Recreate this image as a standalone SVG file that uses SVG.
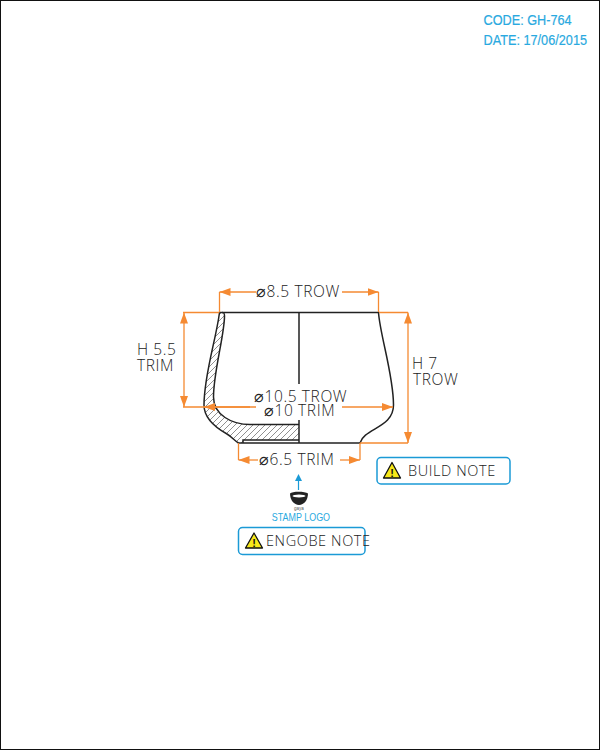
<svg xmlns="http://www.w3.org/2000/svg" width="600" height="750" viewBox="0 0 600 750">
<style>
.dim{font-family:"Open Sans","DejaVu Sans",sans-serif;font-weight:300;font-size:15.5px;fill:#222;letter-spacing:.6px}
.ln{fill:none;stroke:#222;stroke-width:1.5}
.or{fill:none;stroke:#f58a32;stroke-width:1.3}
.bx{fill:#fff;stroke:#1b9ad6;stroke-width:1.5}
.hd{font-family:"Liberation Sans",sans-serif;font-weight:400;font-size:15.5px;fill:#29a9e0;stroke:#29a9e0;stroke-width:.2}
.tri{fill:#f7e81a;stroke:#111;stroke-width:1.3;stroke-linejoin:round}
.ex{font-family:"Liberation Sans",sans-serif;font-weight:700;font-size:11px;fill:#111;text-anchor:middle}
</style>
<defs>
<marker id="a" markerWidth="12" markerHeight="9" refX="11" refY="4" orient="auto-start-reverse" markerUnits="userSpaceOnUse"><path d="M0 0L11 4L0 8Z" fill="#f58a32"/></marker>
<pattern id="h" width="6" height="6" patternUnits="userSpaceOnUse"><path d="M-1 7L7 -1M-1 1L1 -1M5 7L7 5" stroke="#444" stroke-width=".6" fill="none"/></pattern>
</defs>
<rect x="0.5" y="0.5" width="599" height="749" fill="#fff" stroke="#111" stroke-width="1"/>
<g id="header">
<text class="hd" transform="translate(483.500,25) scale(.82,1)">CODE: GH-764</text>
<text class="hd" transform="translate(483.500,45) scale(.82,1)">DATE: 17/06/2015</text>
</g>
<g id="vessel">
<path d="M219.500 312.500C216 340 204 375 204 405C204 420 218 429 227 434C232 437 235 441 238.500 443L243 443L243 440L299 440L299 424.500L250 424.500C232 424.500 213.500 415 213.500 397C213.500 372 224.500 335 224.500 316C224.500 313 224 312.500 222 312.500Z" fill="url(#h)"/>
<path class="ln" d="M219.500 312.500C216 340 204 375 204 405C204 420 218 429 227 434C232 437 235 441 238.500 443L360 443C364 428 393.500 428 393.500 405C393.500 375 380 335 378.500 312.500L219.500 312.500"/>
<path class="ln" d="M222 312.500C224 312.500 224.500 313 224.500 316C224.500 335 213.500 372 213.500 397C213.500 415 232 424.500 250 424.500L299 424.500"/>
<path class="ln" d="M243 443L243 440L299 440"/>
<path class="ln" d="M299 312.500L299 384M299 420L299 443"/>
</g>
<g id="connectors">
<path class="or" d="M256 292L219.500 292" marker-end="url(#a)"/><path class="or" d="M219.500 292L219.500 312"/>
<path class="or" d="M342 292L378.500 292" marker-end="url(#a)"/><path class="or" d="M378.500 292L378.500 312"/>
<path class="or" d="M184 312.500L184 407" marker-start="url(#a)" marker-end="url(#a)"/><path class="or" d="M183 312.500L219 312.500M183 407L250 407"/>
<path class="or" d="M408 312.500L408 443" marker-start="url(#a)" marker-end="url(#a)"/><path class="or" d="M379 312.500L408 312.500M360 443L408 443"/>
<path class="or" d="M256 407L204 407" marker-end="url(#a)"/>
<path class="or" d="M342 407L393 407" marker-end="url(#a)"/>
<path class="or" d="M258 460L238.500 460" marker-end="url(#a)"/><path class="or" d="M238.500 443L238.500 460"/>
<path class="or" d="M340 460L360 460" marker-end="url(#a)"/><path class="or" d="M360 443L360 460"/>
<path d="M298.500 490L298.500 478" stroke="#1b9ad6" stroke-width="1.2" fill="none"/><path d="M295 481L298.500 474L302 481Z" fill="#1b9ad6"/>
</g>
<g id="dimensions">
<text class="dim" x="256" y="297">⌀8.5 TROW</text>
<text class="dim" x="137" y="355">H 5.5</text>
<text class="dim" x="137" y="371">TRIM</text>
<text class="dim" x="412" y="369">H 7</text>
<text class="dim" x="413" y="385">TROW</text>
<text class="dim" x="254" y="402">⌀10.5 TROW</text>
<text class="dim" x="264" y="416">⌀10 TRIM</text>
<text class="dim" x="259" y="465">⌀6.5 TRIM</text>
</g>
<g id="stamp">
<path d="M290 493.500C292 491 305 491 308 493.500C308 500 304 505 299 505C294 505 290 500 290 493.500Z" fill="#222"/>
<ellipse cx="299" cy="496" rx="6.500" ry="1.500" fill="#fff"/>
<text x="299" y="509.500" font-family="'Liberation Sans',sans-serif" font-size="4.500" fill="#555" text-anchor="middle">gaya</text>
<text x="299" y="521" font-family="'Liberation Sans',sans-serif" font-size="10.500" fill="#29a9e0" text-anchor="middle" transform="translate(46.800 0) scale(.85 1)" >STAMP LOGO</text>
</g>
<g id="build-note">
<rect class="bx" x="377" y="457.500" width="133" height="26.500" rx="4"/>
<path class="tri" d="M392 462.500L400.500 478L383.500 478Z"/><text class="ex" x="392" y="476.500">!</text>
<text class="dim" x="408" y="476" style="font-size:14.500px">BUILD NOTE</text>
</g>
<g id="engobe-note">
<rect class="bx" x="238.500" y="527.500" width="126.500" height="27" rx="4"/>
<path class="tri" d="M254 533L262.500 548L245.500 548Z"/><text class="ex" x="254" y="546.500">!</text>
<text class="dim" x="266" y="546" style="font-size:14.500px">ENGOBE NOTE</text>
</g>
</svg>
